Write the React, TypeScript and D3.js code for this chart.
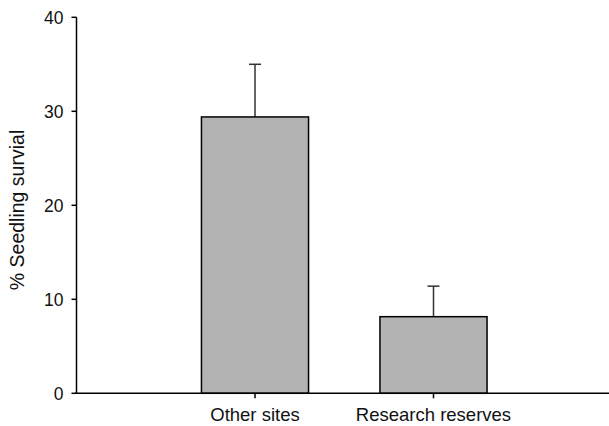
import React from "react";
import * as d3 from "d3";

const categories = ["Other sites", "Research reserves"];
const values = [29.4, 8.15];
const errors = [5.6, 3.25];
const yTicks = [0, 10, 20, 30, 40];

const W = 609;
const H = 426;

export default function App() {
  const y = d3.scaleLinear().domain([0, 40]).range([393.3, 17.3]);
  const x = d3.scaleLinear().domain([0, 3]).range([76.5, 612]);
  const barW = x(0.6) - x(0);
  const font = "Arial, 'Liberation Sans', Helvetica, sans-serif";
  return (
    <svg width={W} height={H} style={{ position: "absolute", left: 0, top: 0, background: "#fff" }}>
      {categories.map((c, i) => {
        const cx = x(i + 1);
        return (
          <g key={c}>
            <line x1={cx} x2={cx} y1={y(values[i])} y2={y(values[i] + errors[i])} stroke="#333" strokeWidth={1.5} />
            <line x1={cx - 6} x2={cx + 6} y1={y(values[i] + errors[i])} y2={y(values[i] + errors[i])} stroke="#333" strokeWidth={1.5} />
            <rect x={cx - barW / 2} y={y(values[i])} width={barW} height={y(0) - y(values[i])} fill="#b3b3b3" stroke="#000" strokeWidth={1.5} />
          </g>
        );
      })}
      <line x1={x(0)} x2={x(0)} y1={y(40)} y2={y(0)} stroke="#000" strokeWidth={1.5} />
      {yTicks.map((t) => (
        <g key={t}>
          <line x1={x(0) - 5} x2={x(0)} y1={y(t)} y2={y(t)} stroke="#000" strokeWidth={1.5} />
          <text x={x(0) - 13} y={y(t)} dy="0.36em" textAnchor="end" fontFamily={font} fontSize={17.5} fill="#111">
            {t}
          </text>
        </g>
      ))}
      <line x1={x(0) - 1} x2={W} y1={y(0)} y2={y(0)} stroke="#000" strokeWidth={1.5} />
      {categories.map((c, i) => (
        <g key={c}>
          <line x1={x(i + 1)} x2={x(i + 1)} y1={y(0)} y2={y(0) + 5} stroke="#000" strokeWidth={1.5} />
          <text x={x(i + 1)} y={421} textAnchor="middle" fontFamily={font} fontSize={18.5} fill="#111">
            {c}
          </text>
        </g>
      ))}
      <text transform={`translate(24,210) rotate(-90)`} textAnchor="middle" fontFamily={font} fontSize={19.5} fill="#111">
        % Seedling survial
      </text>
    </svg>
  );
}
